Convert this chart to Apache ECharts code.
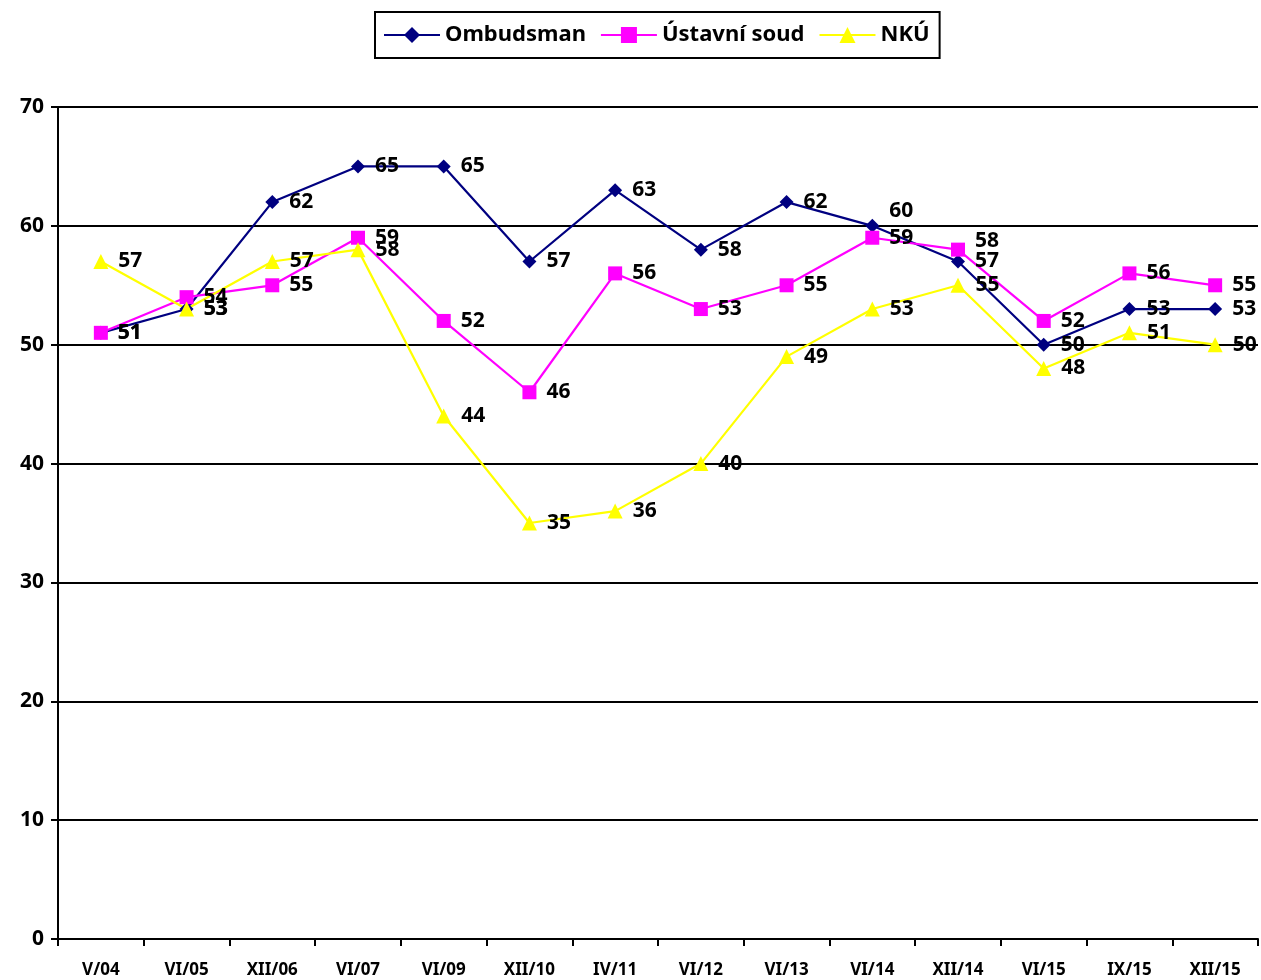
<!DOCTYPE html>
<html>
<head>
<meta charset="utf-8">
<script src="https://cdn.jsdelivr.net/npm/echarts@6/dist/echarts.min.js"></script>
<style>
  html, body { margin: 0; padding: 0; background: #fff; }
  #main { width: 1261px; height: 980px; }
</style>
</head>
<body>
<div id="main"></div>
<script>
var categories = ['V/04', 'VI/05', 'XII/06', 'VI/07', 'VI/09', 'XII/10', 'IV/11', 'VI/12', 'VI/13', 'VI/14', 'XII/14', 'VI/15', 'IX/15', 'XII/15'];
var ombudsman = [51, 53, 62, 65, 65, 57, 63, 58, 62, 60, 57, 50, 53, 53];
var ustavniSoud = [51, 54, 55, 59, 52, 46, 56, 53, 55, 59, 58, 52, 56, 55];
var nku = [57, 53, 57, 58, 44, 35, 36, 40, 49, 53, 55, 48, 51, 50];

var FONT = '"Noto Sans", "DejaVu Sans", sans-serif';

var myChart = echarts.init(document.getElementById('main'));

// společný styl popisků u bodů; offsets posouvá jednotlivé popisky (index -> [dx, dy])
var make_series = function(name, data, color, symbol, size, offsets) {
    offsets = offsets || {};
    var items = data.map(function(v, i) {
        if (offsets[i]) {
            return { value: v, label: { offset: offsets[i] } };
        }
        return v;
    });
    return {
        name: name,
        type: 'line',
        data: items,
        symbol: symbol,
        symbolSize: size,
        color: color,
        lineStyle: { color: color, width: 2.2 },
        itemStyle: { color: color },
        label: {
            show: true,
            position: 'right',
            distance: 10,
            color: '#000',
            fontFamily: FONT,
            fontWeight: 'bold',
            fontSize: 21
        },
        emphasis: { disabled: true },
        animation: false
    };
};

var option = {
    backgroundColor: '#fff',
    legend: {
        top: 12,
        left: 375,
        borderColor: '#000',
        borderWidth: 2,
        padding: [12, 10, 12, 8],
        itemWidth: 56,
        itemHeight: 20,
        itemGap: 14,
        textStyle: { fontFamily: FONT, fontWeight: 'bold', fontSize: 22, color: '#000' },
        data: ['Ombudsman', 'Ústavní soud', 'NKÚ']
    },
    grid: { left: 58, right: 3, top: 107, bottom: 41, containLabel: false },
    xAxis: {
        type: 'category',
        data: categories,
        boundaryGap: true,
        axisLine: { lineStyle: { color: '#000', width: 2 } },
        axisTick: { show: true, length: 7, lineStyle: { color: '#000', width: 2 } },
        axisLabel: {
            margin: 23,
            fontFamily: FONT,
            fontWeight: 'bold',
            fontSize: 17,
            color: '#000',
            interval: 0
        },
        splitLine: { show: false }
    },
    yAxis: {
        type: 'value',
        min: 0,
        max: 70,
        interval: 10,
        axisLine: { show: true, lineStyle: { color: '#000', width: 2 } },
        axisTick: { show: true, length: 7, lineStyle: { color: '#000', width: 2 } },
        axisLabel: {
            margin: 14,
            fontFamily: FONT,
            fontWeight: 'bold',
            fontSize: 21,
            color: '#000'
        },
        splitLine: { show: true, lineStyle: { color: '#000', width: 2 } }
    },
    series: [
        make_series('Ombudsman', ombudsman, '#000080', 'diamond', 14, { 9: [0, -15] }),
        make_series('Ústavní soud', ustavniSoud, '#ff00ff', 'rect', 14, { 10: [0, -9] }),
        make_series('NKÚ', nku, '#ffff00', 'triangle', 15)
    ]
};

myChart.setOption(option);
</script>
</body>
</html>
